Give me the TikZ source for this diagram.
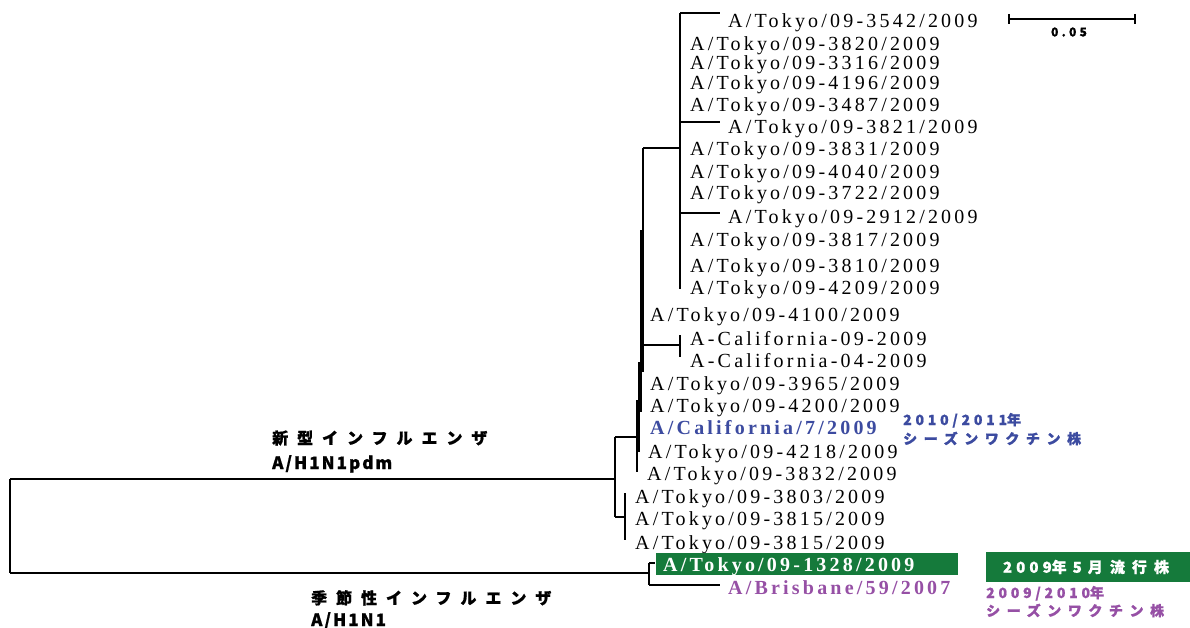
\documentclass[tikz,border=0pt]{standalone}
\usepackage{fontspec}
\setmainfont{Liberation Serif}
\newfontfamily\leaffamily[LetterSpace=16]{Liberation Serif}
\newfontfamily\jpcjk[LetterSpace=56,FakeBold=1]{Noto Sans CJK JP}
\newfontfamily\jplat[LetterSpace=12,FakeBold=1]{Noto Sans CJK JP}
\newfontfamily\jpcjks[LetterSpace=47,FakeBold=1]{Noto Sans CJK JP}
\newfontfamily\jplats[LetterSpace=27,FakeBold=1]{Noto Sans CJK JP}
\newcommand\leaffont{\leaffamily\fontsize{20}{20}\selectfont}
\newcommand\bigjp{\bfseries\fontsize{16}{16}\selectfont}
\newcommand\biglat{\bfseries\fontsize{17}{17}\selectfont}
\newcommand\smalljp{\bfseries\fontsize{14}{14}\selectfont}
\definecolor{vacblue}{RGB}{60,75,160}
\definecolor{vacpurple}{RGB}{150,80,165}
\definecolor{flugreen}{RGB}{21,122,59}
\tikzset{
  br/.style={line width=1.2pt},
  thickbr/.style={line width=4pt},
  lf/.style={anchor=base west, inner sep=0pt, font=\leaffont},
  jplabel/.style={anchor=base west, inner sep=0pt, align=left},
}
\begin{document}
\begin{tikzpicture}[x=1pt,y=-1pt]
\useasboundingbox (0,0) rectangle (1190,628);
% ---------- leaves ----------
\node[lf] (L1)  at (728,28)  {A/Tokyo/09-3542/2009};
\node[lf] (L2)  at (690,51)  {A/Tokyo/09-3820/2009};
\node[lf] (L3)  at (690,70)  {A/Tokyo/09-3316/2009};
\node[lf] (L4)  at (690,90)  {A/Tokyo/09-4196/2009};
\node[lf] (L5)  at (690,112) {A/Tokyo/09-3487/2009};
\node[lf] (L6)  at (728,134) {A/Tokyo/09-3821/2009};
\node[lf] (L7)  at (690,156) {A/Tokyo/09-3831/2009};
\node[lf] (L8)  at (690,179) {A/Tokyo/09-4040/2009};
\node[lf] (L9)  at (690,200) {A/Tokyo/09-3722/2009};
\node[lf] (L10) at (728,224) {A/Tokyo/09-2912/2009};
\node[lf] (L11) at (690,247) {A/Tokyo/09-3817/2009};
\node[lf] (L12) at (690,272) {A/Tokyo/09-3810/2009};
\node[lf] (L13) at (690,294) {A/Tokyo/09-4209/2009};
\node[lf] (L14) at (650,321) {A/Tokyo/09-4100/2009};
\node[lf] (L15) at (690,345) {A-California-09-2009};
\node[lf] (L16) at (690,367) {A-California-04-2009};
\node[lf] (L17) at (650,390) {A/Tokyo/09-3965/2009};
\node[lf] (L18) at (650,412) {A/Tokyo/09-4200/2009};
\node[lf, text=vacblue, font=\leaffont\bfseries] (L19) at (650,434) {A/California/7/2009};
\node[lf] (L20) at (648,458) {A/Tokyo/09-4218/2009};
\node[lf] (L21) at (647,480) {A/Tokyo/09-3832/2009};
\node[lf] (L22) at (635,503) {A/Tokyo/09-3803/2009};
\node[lf] (L23) at (635,525) {A/Tokyo/09-3815/2009};
\node[lf] (L24) at (635,549) {A/Tokyo/09-3815/2009};
\fill[flugreen] (656,553) rectangle (958,575);
\node[lf, text=white, font=\leaffont\bfseries] (L25) at (663,571) {A/Tokyo/09-1328/2009};
\node[lf, text=vacpurple, font=\leaffont\bfseries] (L26) at (728,594) {A/Brisbane/59/2007};
% ---------- internal coordinates ----------
\coordinate (R1) at (10,479);  \coordinate (R2) at (10,573);
\coordinate (N1) at (615,479); \coordinate (N1a) at (615,437); \coordinate (N1b) at (615,517);
\coordinate (N2a) at (625,493); \coordinate (N2b) at (625,540); \coordinate (N2m) at (625,517);
\coordinate (P0) at (637,437);
\coordinate (P1) at (643,148); \coordinate (P1c) at (643,345);
\coordinate (T1) at (680,148); \coordinate (Ttop) at (680,13); \coordinate (Tbot) at (680,289);
\coordinate (C1) at (680,345); \coordinate (Ctop) at (680,335); \coordinate (Cbot) at (680,357);
\coordinate (t1) at (720,13); \coordinate (t6) at (720,122); \coordinate (t10) at (720,213);
\coordinate (t6s) at (680,122); \coordinate (t10s) at (680,213);
\coordinate (S1) at (649,573); \coordinate (Sa) at (649,563); \coordinate (Sb) at (649,585);
\coordinate (Sg) at (655,563); \coordinate (Sp) at (720,585);
% ---------- branches ----------
\draw[br] (R1) -- (R2);
\draw[br] (R1) -- (N1);
\draw[br] (R2) -- (S1);
\draw[br] (N1a) -- (N1b);
\draw[br] (N1a) -- (P0);
\draw[br] (N1b) -- (N2m);
\draw[br] (N2a) -- (N2b);
% ladder
\draw[br] (P1) -- (643,230);
\draw[thickbr] (642,230) -- (642,372);
\draw[thickbr] (640,362) -- (640,412);
\draw[thickbr] (638,400) -- (638,452);
\draw[line width=2.6pt] (637,445) -- (637,472);
\draw[br] (P1) -- (T1);
\draw[br] (P1c) -- (C1);
% top clade
\draw[br] (Ttop) -- (Tbot);
\draw[br] (Ttop) -- (t1);
\draw[br] (t6s) -- (t6);
\draw[br] (t10s) -- (t10);
% california clade
\draw[br] (Ctop) -- (Cbot);
% seasonal clade
\draw[br] (Sa) -- (Sb);
\draw[br] (Sa) -- (Sg);
\draw[br] (Sb) -- (Sp);
% ---------- group labels ----------
\node[jplabel] (G1) at (272,444) {\bigjp\jpcjk 新型インフルエンザ};
\node[jplabel] (G1b) at (272,469) {\biglat\jplat A/H1N1pdm};
\node[jplabel] (G2) at (311,604) {\bigjp\jpcjk 季節性インフルエンザ};
\node[jplabel] (G2b) at (311,626) {\biglat\jplat A/H1N1};
\node[jplabel, text=vacblue] (V1) at (903,425) {\smalljp\jplats 2010/2011\jpcjks 年};
\node[jplabel, text=vacblue] (V1b) at (903,444) {\smalljp\jpcjks シーズンワクチン株};
\fill[flugreen] (986,552) rectangle (1190,582);
\node[inner sep=0pt, text=white] (M1) at (1086,567) {\bfseries\fontsize{15}{15}\selectfont\jplats 2009\jpcjks 年\hspace{6pt}\jplats 5\hspace{6pt}\jpcjks 月流行株};
\node[jplabel, text=vacpurple] (V2) at (986,598) {\smalljp\jplats 2009/2010\jpcjks 年};
\node[jplabel, text=vacpurple] (V2b) at (986,616) {\smalljp\jpcjks シーズンワクチン株};
% ---------- scale bar ----------
\coordinate (SB1) at (1009,19); \coordinate (SB2) at (1135,19);
\draw[br] (SB1) -- (SB2);
\draw[br] (1009,14) -- (1009,24);
\draw[br] (1135,14) -- (1135,24);
\node[inner sep=0pt] (SBL) at (1069,32) {\bfseries\fontsize{12}{12}\selectfont\jplats 0.05};
\end{tikzpicture}
\end{document}
